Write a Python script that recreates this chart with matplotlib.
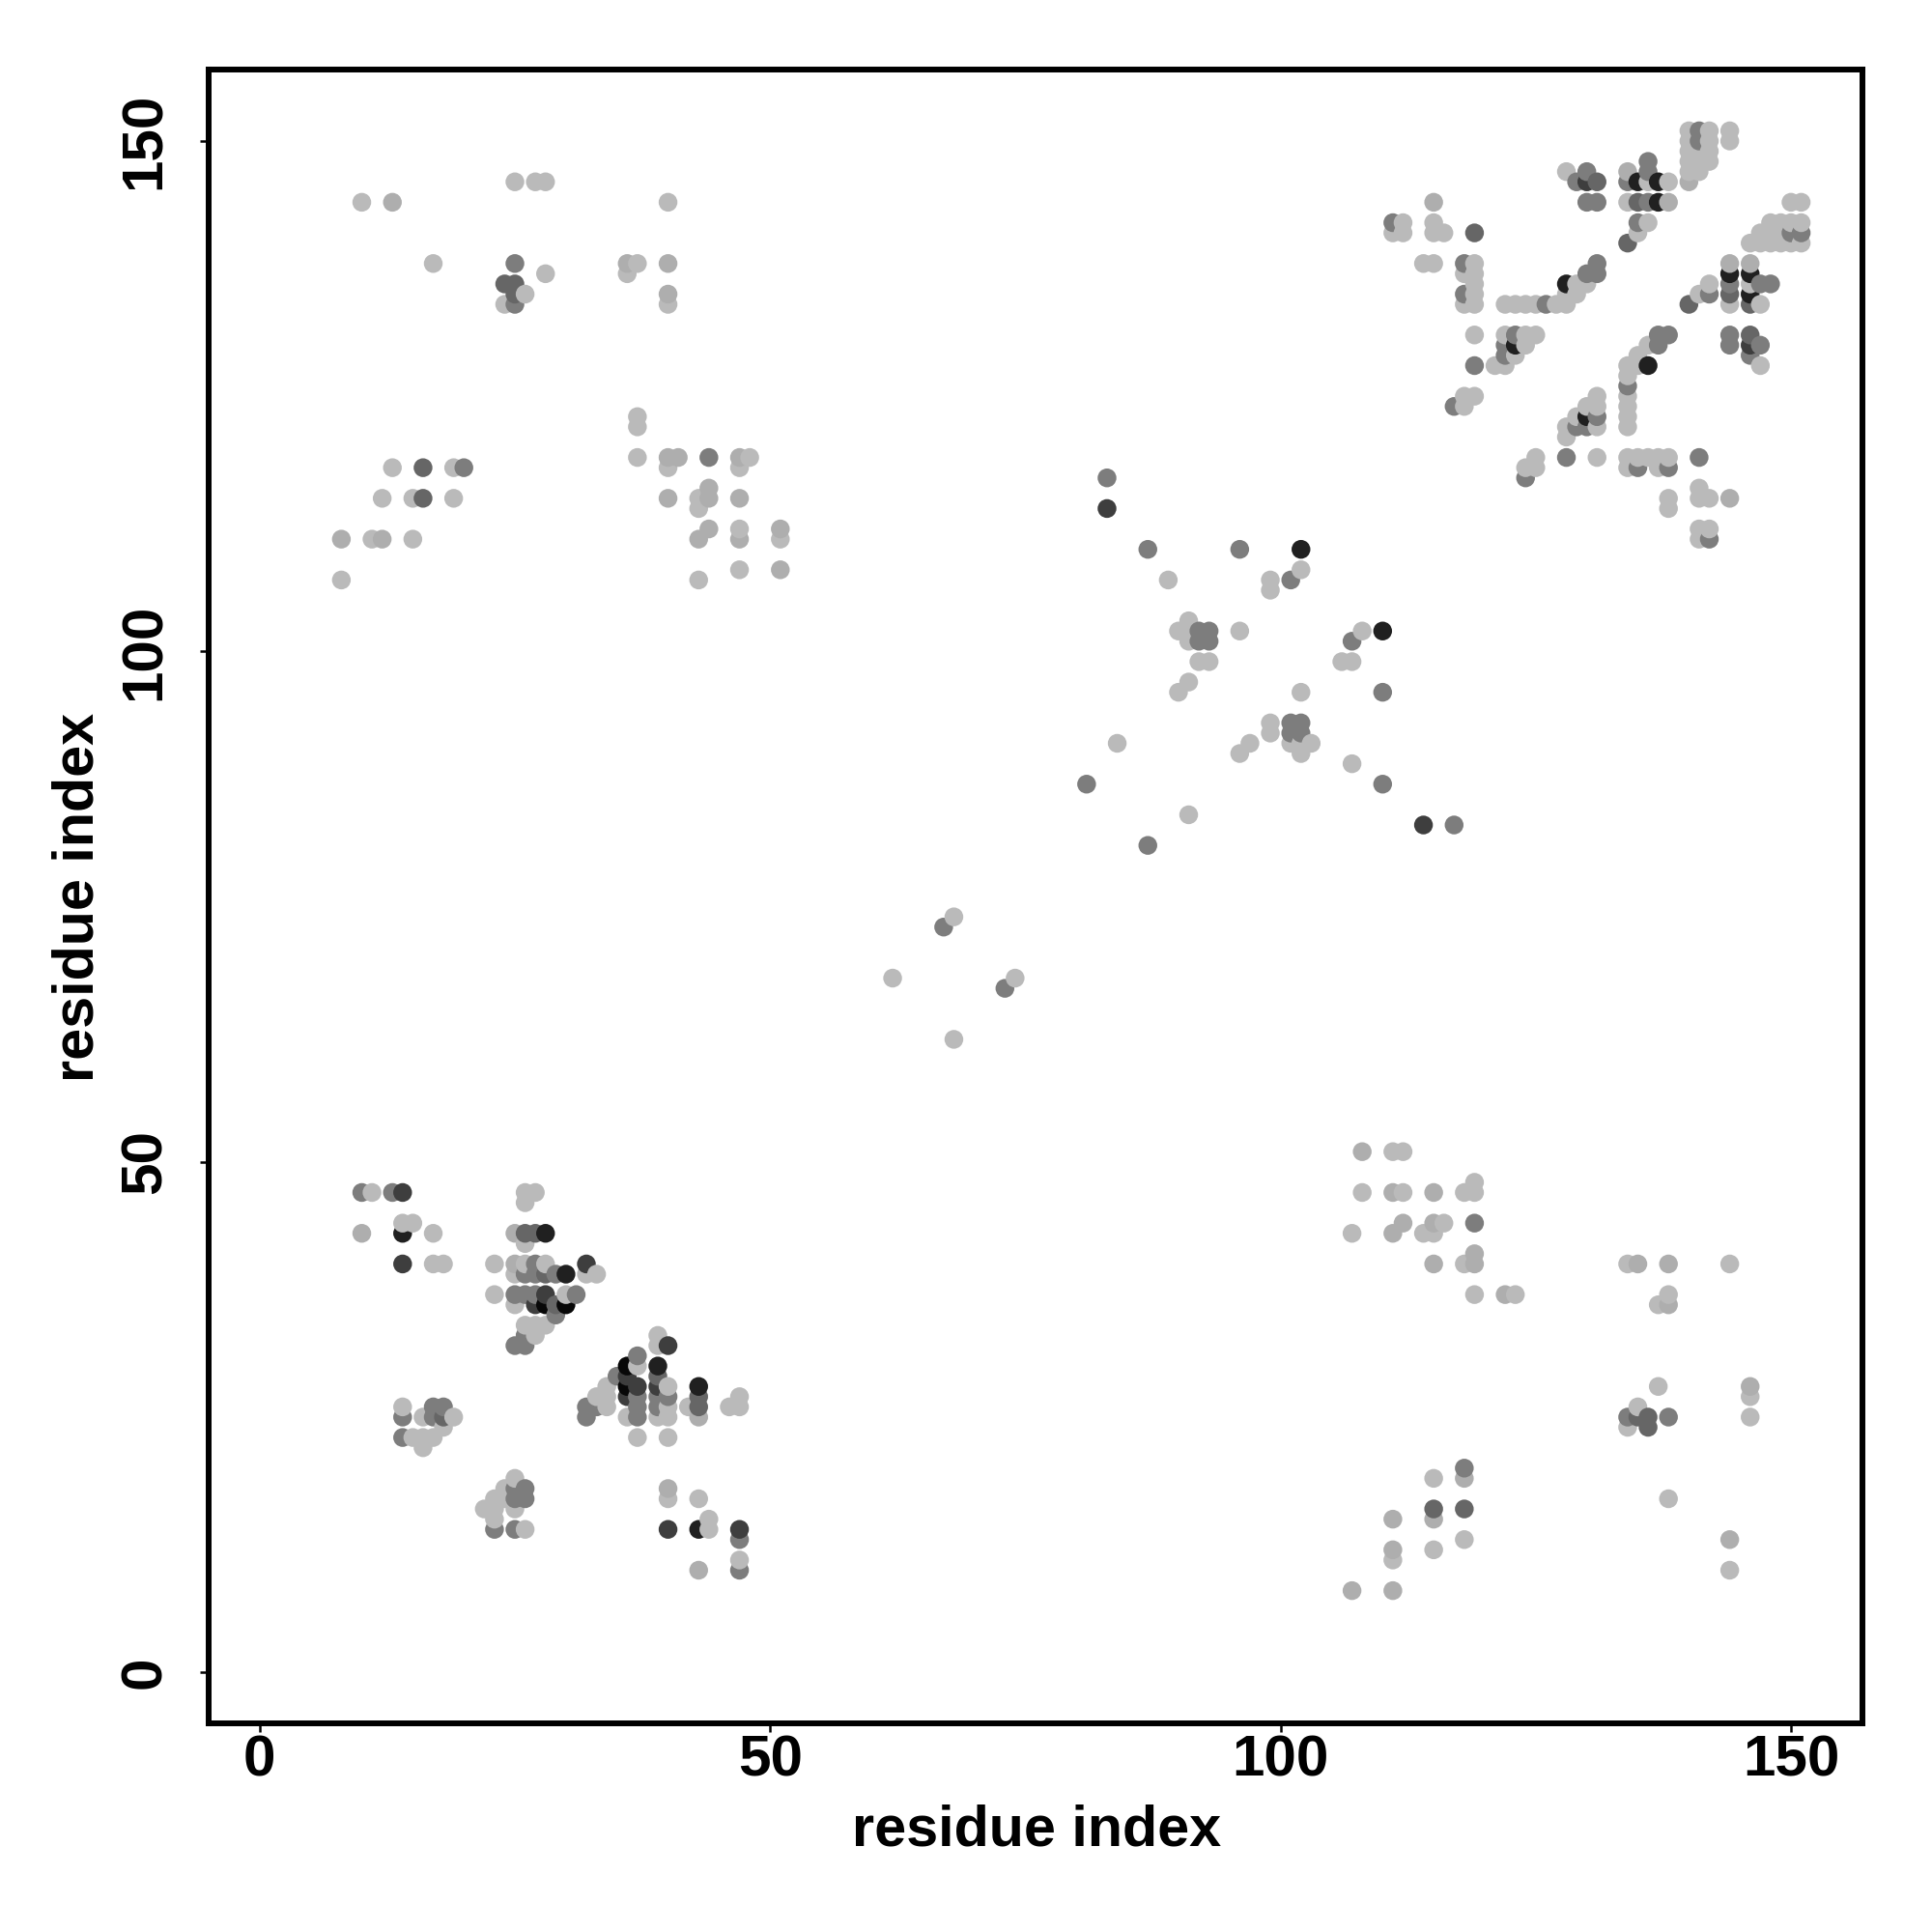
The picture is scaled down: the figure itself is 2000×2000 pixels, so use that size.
import numpy as np
import matplotlib
matplotlib.use("Agg")
import matplotlib.pyplot as plt

plt.rcParams['font.family'] = ['Liberation Sans', 'DejaVu Sans']

# grey levels of the points (0-255)
L, H, M, D, E, V, K = 186, 174, 125, 102, 62, 32, 8

tick_values = [0, 50, 100, 150]
tick_labels = ['0', '50', '100', '150']
axis_label = 'residue index'

top_right = [
 (140,151,L),(140,150,L),(140,149,L),(140,148,L),(140,147,L),(140,146,H),(141,151,M),(141,150,M),(141,149,L),(141,148,L),(141,147,L),
 (142,151,L),(142,150,L),(142,149,L),(142,148,L),(144,151,L),(144,150,L),
 (128,147,L),(130,147,M),(129,146,M),(130,146,E),(131,146,D),(130,144,M),(131,144,M),
 (134,147,H),(136,148,M),(136,147,M),(134,146,M),(135,146,V),(136,146,L),(137,146,V),(138,146,L),
 (134,144,L),(135,144,D),(136,144,M),(137,144,V),(138,144,H),(135,142,M),(136,142,L),(135,141,L),(134,140,D),
 (111,142,M),(112,142,L),(111,141,L),(112,141,L),(115,144,H),(115,142,L),(115,141,L),(116,141,L),(119,141,D),
 (114,138,L),(115,138,L),(118,138,M),(119,138,L),(118,137,L),(119,137,L),(119,136,L),(118,135,M),(119,135,L),(118,134,L),(119,134,L),
 (122,134,L),(123,134,L),(124,134,L),(125,134,L),(126,134,M),(127,134,L),(128,134,L),(128,135,L),(129,135,L),(129,136,L),(128,136,V),
 (130,136,L),(130,137,M),(131,137,M),(131,138,M),
 (119,131,L),(122,131,L),(123,131,M),(124,131,L),(125,131,L),(122,130,M),(123,130,V),(124,130,L),(122,129,M),(123,129,L),
 (119,128,M),(121,128,L),(122,128,L),(118,125,L),(119,125,L),(117,124,M),(118,124,L),
 (131,125,L),(130,124,L),(131,124,L),(129,123,L),(130,123,V),(131,123,M),(128,122,L),(129,122,M),(130,122,M),(131,122,L),(128,121,L),
 (125,119,L),(124,118,L),(125,118,L),(124,117,M),(128,119,M),(131,119,L),
 (134,128,L),(134,127,L),(134,126,M),(134,125,L),(134,124,L),(134,123,L),(134,122,L),
 (135,129,L),(136,130,L),(137,130,M),(137,131,M),(138,131,M),(136,128,V),(135,128,L),
 (134,119,L),(135,119,L),(136,119,L),(137,119,L),(138,119,L),(134,118,L),(135,118,M),(137,118,L),(138,118,M),(141,119,M),
 (138,115,L),(141,115,L),(142,115,L),(144,115,H),(138,114,L),(141,116,L),(141,112,L),(142,112,L),(141,111,L),(142,111,M),
 (146,140,L),(147,140,L),(148,140,L),(149,140,L),(150,140,L),(151,140,L),
 (147,141,L),(148,141,L),(149,141,L),(150,141,M),(151,141,M),
 (148,142,L),(149,142,L),(150,142,L),(151,142,L),(150,144,L),(151,144,L),
 (144,138,H),(144,137,V),(144,136,M),(144,135,D),(144,134,L),(146,138,H),(146,137,V),(146,136,L),(146,135,V),(146,134,D),(147,134,L),
 (147,136,M),(148,136,M),(140,134,D),(141,135,L),(142,135,M),(142,136,L),
 (144,131,M),(144,130,M),(146,131,D),(146,130,E),(146,129,M),(147,130,M),(147,128,L),
]

bottom_left = [
 (10,47,M),(11,47,L),(13,47,M),(14,47,E),(26,47,L),(27,47,L),(26,46,L),
 (14,44,L),(15,44,L),(10,43,H),(14,43,V),(17,43,L),(25,43,H),(26,43,D),(27,43,D),(28,43,V),(26,42,L),
 (14,40,E),(17,40,L),(18,40,L),(23,40,L),(25,40,H),(26,40,L),(27,40,M),(28,40,L),(32,40,E),
 (25,39,L),(26,39,M),(27,39,M),(28,39,D),(29,39,M),(30,39,V),(32,39,L),(33,39,L),
 (23,37,L),(25,37,M),(26,37,M),(27,37,M),(28,37,E),(30,37,L),(31,37,M),
 (25,36,L),(27,36,E),(28,36,K),(29,36,D),(30,36,K),(29,35,M),
 (26,34,L),(27,34,L),(28,34,L),(27,33,L),(26,33,M),(25,32,M),(26,32,M),
 (39,33,L),(40,32,E),(39,32,L),(37,31,M),(36,30,K),(37,30,L),(39,30,V),(35,29,M),(36,29,E),(39,29,D),
 (34,28,L),(36,28,K),(37,28,E),(39,28,E),(40,28,L),(43,28,V),(33,27,L),(34,27,L),(36,27,E),(37,27,M),(39,27,M),(40,27,M),(43,27,D),(47,27,L),
 (32,26,M),(33,26,M),(34,26,L),(37,26,M),(39,26,M),(40,26,L),(42,26,L),(43,26,D),(46,26,L),(47,26,L),
 (32,25,M),(36,25,L),(37,25,M),(39,25,L),(40,25,L),(43,25,H),(37,23,L),(40,23,L),
 (14,26,L),(17,26,M),(18,26,M),(14,25,M),(16,25,L),(17,25,M),(18,25,D),(19,25,L),(18,24,L),(14,23,M),(15,23,L),(16,23,L),(17,23,L),(16,22,L),
 (25,19,L),(24,18,L),(25,18,M),(26,18,M),(23,17,L),(24,17,L),(25,17,M),(26,17,M),(22,16,L),(23,16,L),(25,16,L),(23,15,L),
 (23,14,M),(25,14,M),(26,14,L),
 (40,18,H),(40,17,L),(43,17,L),(44,15,L),(44,14,L),(40,14,E),(43,14,V),(47,14,E),(47,13,M),(47,11,L),(47,10,M),(43,10,H),
]

top_left = [
 (25,146,L),(27,146,L),(28,146,L),(10,144,L),(13,144,H),(40,144,L),(17,138,L),(25,138,M),(28,137,L),(36,138,H),(37,138,L),(36,137,L),(40,138,H),
 (24,136,D),(25,136,D),(25,135,D),(26,135,L),(24,134,L),(25,134,M),(40,135,H),(40,134,L),
 (37,123,L),(37,122,L),(37,119,L),(40,119,H),(41,119,H),(44,119,M),(47,119,H),(48,119,L),(40,118,L),(47,118,L),
 (40,115,H),(43,115,L),(44,115,H),(44,116,H),(43,114,L),(47,115,H),(44,112,H),(43,111,H),(47,112,L),(47,111,H),(51,112,H),(51,111,L),
 (47,108,L),(51,108,H),(43,107,L),
 (13,118,L),(16,118,D),(19,118,L),(20,118,M),(12,115,L),(15,115,L),(16,115,D),(19,115,L),(8,111,H),(11,111,L),(12,111,H),(15,111,L),(8,107,L),
]

bottom_right = [
 (108,51,H),(111,51,L),(112,51,L),(108,47,L),(111,47,H),(112,47,L),(115,47,H),(118,47,L),(119,47,L),(119,48,L),
 (107,43,L),(111,43,H),(112,44,H),(114,43,L),(115,43,L),(115,44,H),(116,44,L),(119,44,M),
 (115,40,H),(118,40,L),(119,40,H),(119,41,H),(119,37,L),(122,37,H),(123,37,L),
 (134,40,L),(135,40,H),(138,40,H),(144,40,L),(138,37,L),(137,36,L),(138,36,H),
 (137,28,L),(146,28,H),(146,27,L),(146,25,L),(135,26,L),(134,25,M),(135,25,D),(136,25,D),(136,24,D),(134,24,L),(138,25,M),
 (138,17,L),(144,13,H),(144,10,L),(118,20,M),(118,19,H),(115,19,L),(115,16,D),(118,16,D),(115,15,H),(111,15,H),(118,13,L),(115,12,L),
 (111,12,H),(111,11,L),(107,8,H),(111,8,H),
]

middle = [
 (83,117,M),(83,114,E),(87,110,M),(96,110,M),(102,110,V),(102,108,L),(101,107,M),(99,107,L),(99,106,L),(89,107,L),
 (91,103,L),(90,102,L),(91,102,L),(91,101,L),(92,102,M),(93,102,M),(92,101,M),(93,101,M),(96,102,L),(92,99,L),(93,99,L),
 (108,102,L),(107,101,M),(110,102,V),(106,99,L),(107,99,L),(91,97,L),(90,96,L),(102,96,L),(110,96,M),
 (99,93,L),(99,92,L),(101,93,M),(102,93,M),(101,92,M),(102,92,M),(101,91,L),(102,90,L),(102,91,L),(103,91,L),(97,91,L),(96,90,L),
 (84,91,L),(107,89,L),(81,87,M),(110,87,M),(91,84,L),(114,83,E),(117,83,M),(87,81,M),
 (68,74,L),(67,73,M),(74,68,L),(73,67,M),(62,68,L),(68,62,L),
]

points = np.array(top_right + bottom_left + top_left + bottom_right + middle)
residue_i, residue_j, shade = points[:, 0], points[:, 1], points[:, 2]
order = np.lexsort((residue_j, residue_i))

fig = plt.figure(figsize=(10, 10), dpi=200)
ax = fig.add_axes([0.108, 0.108, 0.856, 0.856])
ax.scatter(residue_i[order], residue_j[order], s=49, linewidths=0,
           c=[str(v / 255) for v in shade[order]], zorder=3)
ax.set_xlim(-5, 157)
ax.set_ylim(-5, 157)
ax.set_xticks(tick_values, tick_labels)
ax.set_yticks(tick_values, tick_labels)
for sp in ax.spines.values():
    sp.set_linewidth(2.15)
ax.tick_params(axis='x', length=3.1, width=0.9, pad=1.2, labelsize=21.7)
ax.tick_params(axis='y', length=3.1, width=0.9, pad=10.5, labelsize=21.7)
for t in ax.get_xticklabels():
    t.set_fontweight('bold')
for t in ax.get_yticklabels():
    t.set_fontweight('bold')
    t.set_rotation(90)
    t.set_va('center')
fig.text(0.5365, 1 - 1895 / 2000, axis_label, ha='center', va='center', fontsize=21.4, fontweight='bold')
fig.text(81 / 2000, 0.5355, axis_label, ha='center', va='center', rotation=90, fontsize=21.4, fontweight='bold')
fig.savefig('out.png', dpi=200, facecolor='white')
